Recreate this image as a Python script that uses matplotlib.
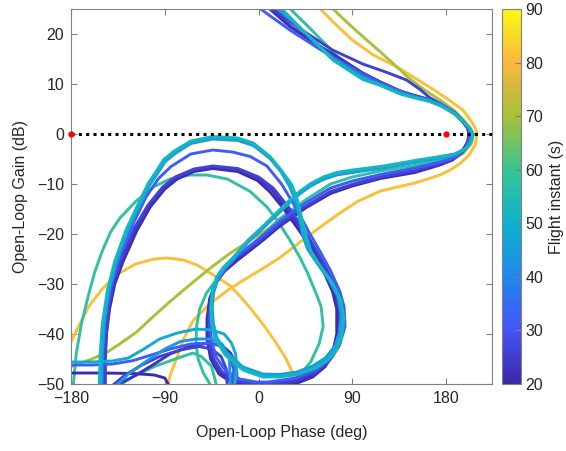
import numpy as np
import matplotlib
matplotlib.use("Agg")
import matplotlib.pyplot as plt
from matplotlib.colors import LinearSegmentedColormap, Normalize

plt.rcParams['font.family'] = ['Liberation Sans', 'DejaVu Sans']
plt.rcParams['font.size'] = 11.5

# ─── Data (phase deg, gain dB) ────────────────────────────────────────────────

t_min, t_max = 20, 90
cbar_ticks = [20, 30, 40, 50, 60, 70, 80, 90]
x_ticks = [-180, -90, 0, 90, 180]
y_ticks = [-50, -40, -30, -20, -10, 0, 10, 20]
crit_phase = [-180, 180]
crit_gain = [0, 0]

# parula-like colour anchors sampled from the colour bar
cmap_pos = [0.0, 0.143, 0.286, 0.429, 0.571, 0.714, 0.80, 0.857, 0.93, 1.0]
cmap_rgb = [(0.24, 0.15, 0.66), (0.27, 0.33, 0.97), (0.13, 0.53, 0.93),
            (0.05, 0.70, 0.80), (0.22, 0.77, 0.58), (0.65, 0.76, 0.22),
            (0.85, 0.72, 0.25), (0.99, 0.72, 0.24), (0.97, 0.85, 0.15),
            (0.98, 0.98, 0.08)]

t21 = 21
c21 = [(8, 25.5), (30, 21.5), (55, 18), (80, 14.8), (100, 12.2), (117, 10.4),
       (136, 8.6), (150, 7.7), (164, 6.9), (176, 5.8), (188, 4.2), (196, 2.5),
       (200.5, 1.2), (202, 0), (200.5, -1.6), (195, -3.6), (186, -5.2), (174, -6.2),
       (150, -7.7), (117, -8.9), (90, -10.4), (69, -11.9), (45, -14.8), (20, -18.5),
       (1, -21.8), (-20, -25.2), (-33, -27.5), (-42, -30), (-47, -33), (-49.5, -37),
       (-49.5, -41), (-46, -45), (-38, -48), (-25, -49.8), (-8, -50.6), (10, -50.8),
       (35, -50), (52, -48.6), (64, -46.5), (71, -43.8), (75, -40), (75, -35),
       (71, -31.5), (62, -27.3), (52, -23.5), (40, -19.6), (25, -15.2), (11, -11.6),
       (-1, -9.3), (-20, -7.5), (-44, -6.9), (-62, -7.5), (-78, -9), (-90, -11),
       (-104, -14.6), (-117, -19.4), (-130, -25.5), (-138, -30), (-143, -35),
       (-146, -40), (-147.5, -45), (-148, -50.6)]
tail21 = [(-181, -47.8), (-150, -47.8), (-120, -47.9), (-100, -48.2), (-90, -48.8),
          (-85, -50.6)]

t23 = 23
c23 = [(9, 25.5), (32, 21.4), (57, 17.8), (82, 14.6), (100, 12.1), (117, 10.3),
       (136, 8.5), (150, 7.6), (164, 6.8), (176, 5.7), (188, 4.1), (196, 2.5),
       (201, 1.2), (203, 0), (201.5, -1.6), (196, -3.6), (186, -5.1), (174, -6),
       (150, -7.5), (117, -8.7), (90, -10.2), (69, -11.6), (45, -14.6), (20, -18.2),
       (1, -21.5), (-20, -24.8), (-32, -27.2), (-41, -29.8), (-46, -33), (-48.5, -37),
       (-48.5, -41), (-45, -45), (-37, -47.8), (-24, -49.5), (-8, -50.3), (10, -50.4),
       (35, -49.6), (54, -48), (66, -45.8), (74, -43), (78, -39.5), (77, -35),
       (73, -31.5), (64, -27.3), (54, -23.5), (42, -19.4), (27, -15), (13, -11.2),
       (0, -8.9), (-20, -7.1), (-44, -6.6), (-62, -7.2), (-79, -8.8), (-91, -10.8),
       (-105, -14.4), (-118, -19), (-131, -25.3), (-139, -30), (-144, -35),
       (-147, -40), (-148.5, -45), (-149, -50.6)]
tail23 = [(-140, -50.6), (-120, -48.5), (-100, -46), (-85, -44), (-65, -42.4), (-47, -41.8),
          (-35, -42.3), (-27, -43.8), (-22.5, -45.5), (-21, -47.6), (-20.5, -50.6)]

t26 = 26
c26 = [(11, 25.5), (40, 21), (71, 16.8), (100, 14), (122, 12.4), (142, 10.8),
       (155, 8.9), (164, 7.3), (176, 5.9), (188, 4.3), (196, 2.6), (200.5, 1.2),
       (202.5, 0), (201, -1.6), (196, -3.5), (186, -5), (174, -5.9), (150, -7.3),
       (117, -8.6), (90, -10.1), (69, -11.5), (45, -14.5), (20, -18), (1, -21.3),
       (-20, -24.6), (-32, -27), (-41, -29.6), (-45, -33), (-47.5, -37), (-47, -41),
       (-43, -45), (-35, -47.6), (-22, -49.2), (-6, -49.9), (10, -50), (35, -49.3),
       (55, -47.6), (68, -45.3), (77, -42.5), (81, -39), (80, -35), (76, -31.5),
       (66, -27.3), (56, -23.5), (44, -19.3), (29, -14.7), (14, -10.8), (0, -8.6),
       (-20, -6.9), (-44, -6.4), (-62, -7), (-80, -8.6), (-92, -10.6), (-106, -14.2),
       (-119, -18.7), (-132, -25.1), (-140, -30), (-144, -35), (-146, -40),
       (-147, -45), (-147, -50.6)]
tail26 = [(-142, -50.6), (-128, -48.2), (-112, -46.2), (-95, -44.5), (-75, -43.2),
          (-57, -42.5), (-45, -43), (-36, -44.5), (-31, -47), (-30, -50.6)]

t32 = 32
c32 = [(-1.4, 25.5), (30, 20.8), (60, 16.8), (94.6, 12.6), (115, 10.4), (136, 8.6),
       (150, 7.6), (164, 6.8), (176, 5.8), (188, 4.3), (196, 2.6), (201.5, 1.2),
       (203.5, 0), (202, -1.6), (197, -3.4), (187, -4.8), (174, -5.6), (150, -6.8),
       (117, -8.1), (90, -9.4), (69, -10.8), (45, -13.8), (20, -17.5), (0, -21),
       (-20, -24.2), (-31, -26.7), (-40, -29.4), (-44.5, -32.5), (-46.5, -37),
       (-45.5, -41), (-41, -44.5), (-32, -47.3), (-18, -49), (-2, -49.6), (10, -49.6),
       (35, -48.8), (55, -47.2), (69, -45), (78, -42), (83, -38.5), (82, -34.5),
       (78, -31.5), (69, -27.3), (59, -23.5), (48, -19.5), (36, -14.8), (22, -10),
       (8, -6.4), (-8, -4.5), (-25, -3.6), (-44, -3.2), (-65, -4), (-84, -6.5),
       (-96, -8.9), (-108, -12.6), (-121, -18.2), (-134, -25), (-141, -30),
       (-146, -35), (-148.5, -40), (-149.5, -45), (-150, -50.6)]
tail32 = [(-181, -46.2), (-160, -46.2), (-140, -46), (-120, -45.3), (-100, -44),
          (-85, -43), (-65, -42), (-47, -41.8), (-35, -42.5), (-28, -44.5), (-24, -47),
          (-24, -50.6)]

t44 = 44
c44 = [(16, 25.5), (44, 20.4), (71, 15.2), (100, 11.3), (117, 9.9), (136, 8.2),
       (150, 7.4), (164, 6.7), (176, 5.7), (188, 4.2), (196, 2.6), (202, 1.2),
       (205, 0), (203.5, -1.5), (198, -3.1), (188, -4.2), (174, -4.8), (150, -5.7),
       (117, -6.9), (90, -7.7), (75, -8.2), (62, -9.1), (50, -10.4), (40, -11.9),
       (30, -13.7), (18, -16.1), (5, -18.7), (-10, -21.6), (-24, -25), (-33, -27),
       (-39, -29), (-43, -31.5), (-44.5, -34.5), (-43.5, -37.8), (-40, -40.8),
       (-30, -43.8), (-15, -46.6), (4, -48), (20, -48.1), (37, -47.6), (52, -46.4),
       (64, -44.8), (73, -42.5), (78, -39.5), (79, -36), (76, -32.5), (68, -29.3),
       (55, -25.5), (47, -23), (42, -20), (39, -16.5), (35, -13.2), (30, -10.6),
       (22, -7.7), (11, -4.9), (-5, -2.3), (-20, -1.3), (-44, -1), (-65, -1.9),
       (-80, -3.9), (-90, -5.6), (-97, -7.9), (-105, -10.4), (-112, -13.4),
       (-126, -19.6), (-137, -25.8), (-144, -31.5), (-148, -38), (-150, -44),
       (-151, -50.6)]
tail44 = [(-138, -50.6), (-125, -48), (-108, -45.5), (-90, -43), (-75, -41.5), (-60, -41),
          (-45, -41), (-35, -42), (-28, -45), (-27, -50.6)]

t48 = 48
c48 = [(18, 25.5), (45, 20.2), (71, 14.9), (100, 11.1), (117, 9.8), (136, 8.1),
       (150, 7.3), (164, 6.6), (176, 5.6), (188, 4.1), (196.5, 2.5), (202.5, 1.2),
       (205.5, 0), (204, -1.5), (198.5, -3), (188, -4.1), (174, -4.6), (150, -5.5),
       (117, -6.7), (90, -7.4), (75, -7.9), (62, -8.8), (50, -10.1), (40, -11.6),
       (30, -13.4), (18, -15.8), (5, -18.5), (-10, -21.4), (-24, -24.8), (-33, -26.8),
       (-39.5, -28.8), (-43.5, -31.5), (-45, -34.5), (-44, -37.8), (-41, -40.8),
       (-31, -44), (-15, -46.9), (4, -48.3), (20, -48.4), (37, -47.9), (53, -46.7),
       (65, -45.1), (74, -43), (79, -40), (81, -36.5), (78, -33), (70, -29.6),
       (57, -25.8), (49, -23.2), (43.5, -20), (40, -16.5), (36, -13.2), (31, -10.5),
       (22, -7.5), (11, -4.7), (-5, -2), (-20, -1), (-44, -0.7), (-65, -1.6),
       (-80, -3.6), (-90, -5.3), (-97, -7.6), (-105, -10.1), (-112, -13.1),
       (-126, -19.3), (-137, -25.6), (-144, -31.3), (-149, -38), (-151, -44),
       (-152, -50.6)]
tail48 = [(-181, -45.6), (-160, -45.6), (-140, -45.4), (-125, -44.8), (-110, -43),
          (-95, -41), (-78, -39.8), (-60, -39), (-45, -39.2), (-33, -40), (-26, -41.8),
          (-22, -44), (-21, -46.6), (-23, -50.6)]

t52 = 52
c52 = [(20, 25.5), (46, 20), (72, 14.7), (100, 10.9), (117, 9.7), (136, 8),
       (150, 7.2), (164, 6.5), (176, 5.5), (188, 4), (197, 2.4), (203, 1.1), (206, 0),
       (204.5, -1.4), (199, -2.9), (188, -4), (174, -4.5), (150, -5.3), (117, -6.5),
       (90, -7.2), (75, -7.7), (62, -8.6), (50, -9.9), (40, -11.4), (30, -13.2),
       (18, -15.6), (5, -18.3), (-10, -21.2), (-24, -24.6), (-34, -26.7),
       (-40.5, -28.7), (-44.5, -31.5), (-46, -34.5), (-45, -37.8), (-42, -40.8),
       (-32, -44.2), (-15, -47.2), (4, -48.6), (20, -48.6), (37, -48.1), (54, -46.9),
       (66, -45.3), (75, -43.2), (80, -40.3), (82, -36.8), (79, -33.2), (71, -29.8),
       (58, -26), (50, -23.3), (45, -20), (41, -16.5), (37, -13), (32, -10.2),
       (22, -7.3), (11, -4.5), (-5, -1.8), (-20, -0.8), (-44, -0.5), (-65, -1.4),
       (-81, -3.4), (-91, -5.1), (-98, -7.4), (-106, -9.9), (-113, -12.9),
       (-127, -19.1), (-138, -25.4), (-145, -31.2), (-150, -38), (-152, -44),
       (-153, -50.6)]

t58 = 58
c58 = [(28, 25.5), (50, 21), (78, 15), (100, 11.6), (117, 10), (136, 8.4),
       (150, 7.5), (164, 6.7), (176, 5.6), (188, 4), (197, 2.2), (202, 0.9),
       (204, 0), (202, -1.8), (195, -3.3), (186, -4.5), (174, -5.3), (150, -6.3),
       (117, -7.4), (90, -8.6), (69, -10), (45, -13.2), (20, -17), (1, -20.8),
       (-20, -24.6), (-38, -28.5), (-50, -31.8), (-56.5, -35), (-59.5, -38.5),
       (-60, -42), (-58, -45), (-53, -47.8), (-45, -50.6)]
c58b = [(20, -50.6), (38, -48.6), (50, -45.6), (58, -42), (62, -38.5), (60, -34.5),
        (55, -31.8), (47, -27.8), (40, -24.8), (30, -21.2), (18, -17.3), (8, -14.6),
        (-8, -11.5), (-30, -9), (-50, -8.2), (-66, -8.2), (-85, -9), (-101, -10.6),
        (-118, -13.5), (-133, -16.8), (-142, -19.6), (-150, -23.4), (-157, -27.5),
        (-163, -32), (-170, -38), (-175, -44), (-178, -50.6)]
tail58 = [(-136, -50.6), (-120, -48.5), (-100, -46.5), (-80, -45), (-63, -43.8),
          (-55, -44.5), (-45, -46.5), (-40, -50.6)]

t70 = 70
c70 = [(69, 25.5), (85, 22.3), (100, 19.5), (118, 16.2), (136, 12.8), (143, 11.4),
       (158, 9), (174, 6.8), (188, 4.7), (198, 2.5), (203.5, 1.1), (206, 0),
       (204, -2), (196, -3.9), (186, -5.2), (174, -6), (150, -7.2), (125, -8.2),
       (100, -9.3), (80, -10.8), (60, -12.7), (30, -16.3), (0, -20.2), (-27, -23.8),
       (-45, -26.6), (-65, -30), (-85, -33.5), (-100, -36.3), (-117, -39.6),
       (-132, -41.8), (-145, -43.6), (-160, -45), (-181, -46.6)]

t81 = 81
c81 = [(57, 25.5), (72, 22.3), (90, 18.8), (110, 15.8), (133, 13.4), (150, 11.2),
       (164, 9.4), (180, 7.2), (196, 4.8), (204, 2.6), (208.5, 1), (209.5, 0),
       (208, -2.1), (202, -4.2), (194, -5.8), (184, -7.2), (174, -8.2), (150, -9.8),
       (117, -11.4), (95, -13.5), (78, -15.8), (60, -18.5), (40, -21.6), (20, -24.8),
       (1, -27.3), (-15, -29.3), (-30, -31.3), (-48, -34.2), (-63, -37.4),
       (-72, -41), (-78, -44.5), (-84, -47.8), (-88, -50.6)]
c81b = [(-181, -42), (-172, -38.2), (-163, -34.5), (-150, -31), (-135, -28),
        (-118, -26), (-100, -25), (-88, -24.8), (-72, -25.2), (-58, -26.3),
        (-45, -28), (-35, -29.3), (-27, -30.4), (-18, -32.4), (-8, -34.8), (4, -38),
        (16, -41.5), (26, -44.8), (32, -47.5), (37, -50.6)]

# draw order: back to front roughly as in the reference
curves = [(t81, c81), (t81, c81b), (t70, c70), (t58, c58), (t58, c58b), (t58, tail58),
          (t21, c21), (t21, tail21), (t23, c23), (t23, tail23), (t26, c26), (t26, tail26),
          (t32, c32), (t32, tail32), (t44, c44), (t44, tail44), (t48, c48), (t48, tail48),
          (t52, c52)]

# ─── Plot ─────────────────────────────────────────────────────────────────────

cmap = LinearSegmentedColormap.from_list("parula_like", list(zip(cmap_pos, cmap_rgb)))
norm = Normalize(t_min, t_max)

fig = plt.figure(figsize=(5.66, 4.51), dpi=100)
ax = fig.add_axes([71 / 566, 67 / 451, 421 / 566, 375 / 451])
cax = fig.add_axes([502 / 566, 67 / 451, 19 / 566, 375 / 451])

for t, pts in curves:
    ph, g = np.array(pts).T
    ax.plot(ph, g, color=cmap(norm(t)), lw=2.1, solid_joinstyle="round", zorder=2)

ax.plot([-180, 224], [0, 0], color="black", ls=(0, (1, 1.4)), lw=2.2, zorder=3)
ax.plot(crit_phase, crit_gain, "o", color="red", ms=3.5, zorder=4, clip_on=False)

ax.set_xlim(-180, 224)
ax.set_ylim(-50, 25)
ax.set_xticks(x_ticks)
ax.set_yticks(y_ticks)
ax.tick_params(direction="in", top=True, right=True, length=4, width=0.8,
               color="#808080", labelcolor="#262626", pad=5)
for s in ax.spines.values():
    s.set_color("#808080")
    s.set_linewidth(0.8)
ax.set_xlabel("Open-Loop Phase (deg)", color="#262626", labelpad=14)
ax.set_ylabel("Open-Loop Gain (dB)", color="#262626", labelpad=6)

sm = matplotlib.cm.ScalarMappable(norm=norm, cmap=cmap)
cb = fig.colorbar(sm, cax=cax, ticks=cbar_ticks)
cb.outline.set_edgecolor("#808080")
cb.outline.set_linewidth(0.8)
cax.tick_params(direction="in", length=4, width=0.8, color="#808080",
                labelcolor="#262626", pad=3)
cb.set_label("Flight instant (s)", color="#262626", labelpad=4.5)

fig.savefig("out.png", dpi=100)
